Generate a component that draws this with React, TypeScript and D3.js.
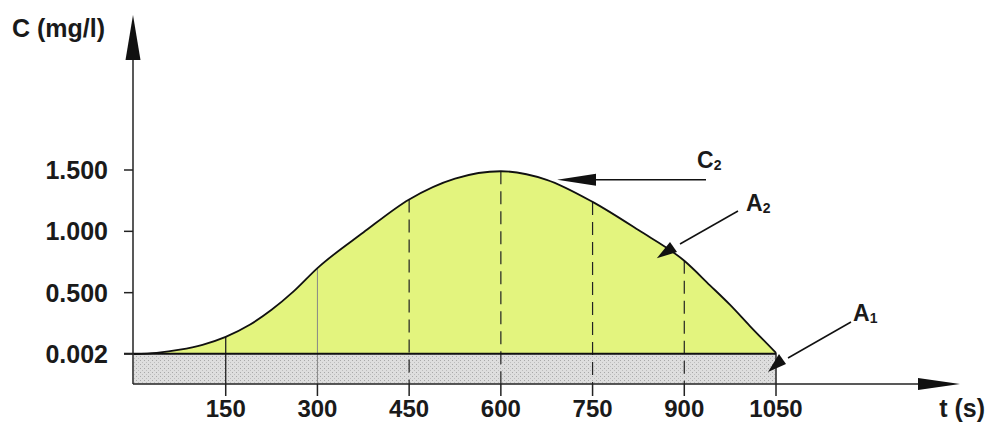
import React from "react";
import * as d3 from "d3";

const times = [0, 37, 75, 112, 150, 190, 225, 261, 300, 375, 450, 525, 600, 675, 750, 825, 900, 942, 975, 1007, 1050];
const conc = [0, 0.01, 0.035, 0.075, 0.14, 0.24, 0.36, 0.51, 0.7, 0.99, 1.26, 1.43, 1.49, 1.42, 1.24, 1.01, 0.76, 0.56, 0.4, 0.23, 0.01];
const xTicks = [150, 300, 450, 600, 750, 900, 1050];
const yTicks = [0.002, 0.5, 1.0, 1.5];
const yTickLabels = ["0.002", "0.500", "1.000", "1.500"];

const W = 989, H = 423;
const FONT = "'Liberation Sans', Arial, Helvetica, sans-serif";

export default function App() {
  const x = d3.scaleLinear().domain([0, 1050]).range([134, 776]);
  const y = d3.scaleLinear().domain([0, 1.5]).range([354, 170]);
  const axisY = 384; // x axis line
  const axisX = x(0) - 1;
  const pts = times.map((t, i) => ({ t, c: conc[i] }));
  const area = d3.area<{ t: number; c: number }>()
    .x(d => x(d.t)).y0(y(0)).y1(d => y(d.c)).curve(d3.curveMonotoneX);
  const line = d3.line<{ t: number; c: number }>()
    .x(d => x(d.t)).y(d => y(d.c)).curve(d3.curveMonotoneX);
  const valAt = (t: number) => conc[times.indexOf(t)];

  return (
    <svg width={W} height={H} style={{ position: "absolute", left: 0, top: 0, background: "#fff" }}
      fontFamily={FONT} fontWeight="bold">
      <defs>
        <pattern id="stip" width="4" height="4" patternUnits="userSpaceOnUse">
          <rect width="4" height="4" fill="#dedede" />
          <rect x="0" y="0" width="1" height="1" fill="#a8a8a8" />
          <rect x="2" y="2" width="1" height="1" fill="#bdbdbd" />
        </pattern>
      </defs>
      {/* gray band A1 */}
      <rect x={x(0)} y={y(0)} width={x(1050) - x(0)} height={axisY - y(0)} fill="url(#stip)" />
      {/* green area */}
      <path d={area(pts) || ""} fill="#e3f47e" />
      {/* vertical lines */}
      {xTicks.map(t => {
        const top = y(valAt(t));
        const style =
          t === 150 ? { stroke: "#222", dash: undefined, w: 1.3 } :
          t === 300 ? { stroke: "#888", dash: undefined, w: 1 } :
          t === 1050 ? { stroke: "#222", dash: undefined, w: 1.5 } :
          { stroke: "#222", dash: "13 7", w: 1.2 };
        return (
          <g key={t}>
            <line x1={x(t)} x2={x(t)} y1={top} y2={axisY} stroke={style.stroke}
              strokeWidth={style.w} strokeDasharray={style.dash} />
            <line x1={x(t)} x2={x(t)} y1={axisY} y2={396} stroke="#222" strokeWidth={1.5} />
            <text x={x(t)} y={417} textAnchor="middle" fontSize={24} fill="#1a1a1a">{t}</text>
          </g>
        );
      })}
      {/* curve */}
      <path d={line(pts) || ""} fill="none" stroke="#111" strokeWidth={1.8} />
      {/* baseline 0.002 */}
      <line x1={124} x2={x(1050)} y1={y(0.002)} y2={y(0.002)} stroke="#111" strokeWidth={2.2} />
      {/* x axis */}
      <line x1={axisX} x2={920} y1={axisY} y2={axisY} stroke="#222" strokeWidth={1.5} />
      <polygon points={`918,${axisY - 6} 960,${axisY} 918,${axisY + 6}`} fill="#111" />
      {/* y axis */}
      <line x1={axisX} x2={axisX} y1={axisY} y2={58} stroke="#222" strokeWidth={1.5} />
      <polygon points={`${axisX},15 ${axisX - 7.5},60 ${axisX + 7.5},60`} fill="#111" />
      {/* y ticks */}
      {yTicks.map((v, i) => (
        <g key={v}>
          <line x1={124} x2={axisX} y1={y(v)} y2={y(v)} stroke="#222" strokeWidth={1.5} />
          <text x={108} y={y(v) + 9} textAnchor="end" fontSize={25} fill="#1a1a1a">{yTickLabels[i]}</text>
        </g>
      ))}
      {/* axis titles */}
      <text x={12} y={37} fontSize={25} fill="#1a1a1a">C (mg/l)</text>
      <text x={985} y={417} textAnchor="end" fontSize={25} fill="#1a1a1a">t (s)</text>

      {/* C2 annotation */}
      <line x1={706} x2={590} y1={y(1.42)} y2={y(1.42)} stroke="#111" strokeWidth={1.5} />
      <polygon points={`${x(692)},${y(1.42)} 596,${y(1.42) - 6} 596,${y(1.42) + 6}`} fill="#111" />
      <text x={697} y={168} fontSize={23} fill="#1a1a1a">C<tspan fontSize={14} dy={2}>2</tspan></text>

      {/* A2 annotation */}
      <line x1={738} y1={211} x2={680} y2={244} stroke="#111" strokeWidth={1.5} />
      <polygon points={`${x(855)},${y(0.78)} 670,242 677,252`} fill="#111" />
      <text x={746} y={211} fontSize={23} fill="#1a1a1a">A<tspan fontSize={14} dy={2}>2</tspan></text>

      {/* A1 annotation */}
      <line x1={851} y1={322} x2={788} y2={358} stroke="#111" strokeWidth={1.5} />
      <polygon points={`768,372 779,354 786,364`} fill="#111" />
      <text x={853} y={321} fontSize={23} fill="#1a1a1a">A<tspan fontSize={14} dy={2}>1</tspan></text>
    </svg>
  );
}
